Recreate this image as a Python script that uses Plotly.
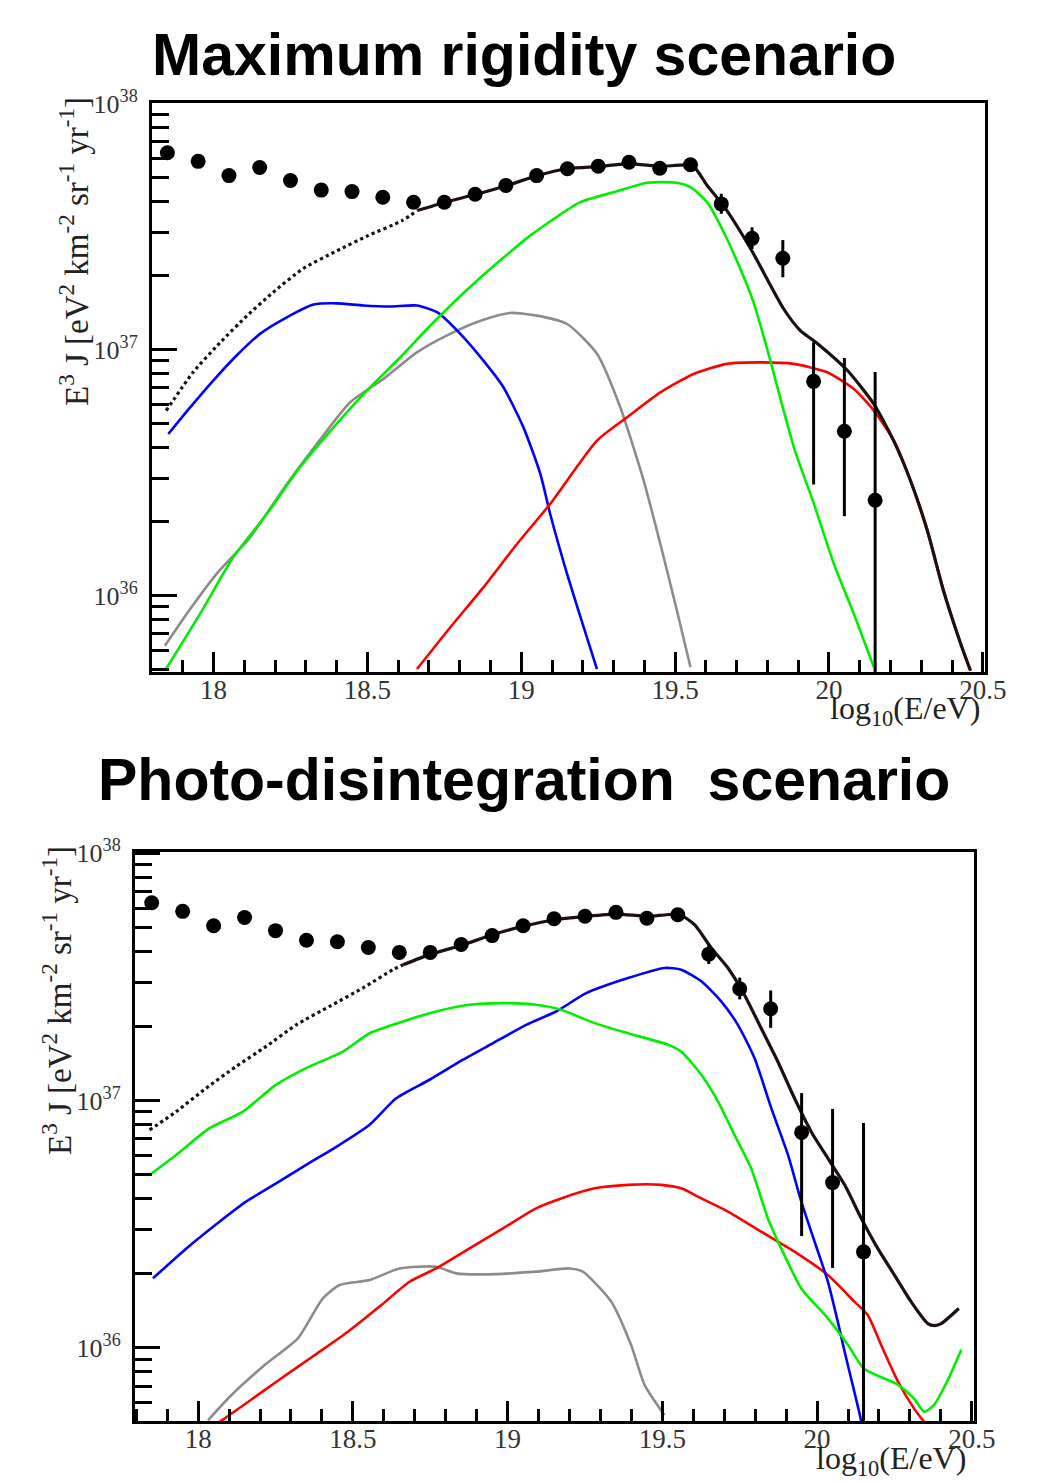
import plotly.graph_objects as go

# ---------------- data ----------------
# Measured spectrum (same data set in both panels), log10(E^3 J)
energy_bins = [17.85, 17.95, 18.05, 18.15, 18.25, 18.35, 18.45, 18.55, 18.65, 18.75,
               18.85, 18.95, 19.05, 19.15, 19.25, 19.35, 19.45, 19.55, 19.65, 19.75,
               19.85, 19.95, 20.05, 20.15]
flux_log10 = [37.800, 37.765, 37.707, 37.740, 37.687, 37.648, 37.642, 37.619, 37.599, 37.599,
              37.631, 37.667, 37.707, 37.735, 37.745, 37.761, 37.737, 37.751, 37.592, 37.452,
              37.371, 36.871, 36.668, 36.388]
flux_up_log10 = [37.810, 37.775, 37.717, 37.750, 37.697, 37.658, 37.652, 37.629, 37.609, 37.609,
                 37.641, 37.677, 37.717, 37.745, 37.757, 37.775, 37.753, 37.770, 37.633, 37.497,
                 37.445, 37.030, 36.966, 36.909]
flux_low_log10 = [37.790, 37.755, 37.697, 37.730, 37.677, 37.638, 37.632, 37.609, 37.589, 37.589,
                  37.621, 37.657, 37.697, 37.725, 37.733, 37.747, 37.721, 37.732, 37.552, 37.409,
                  37.294, 36.452, 36.323, 35.300]

# ---- Maximum rigidity scenario ----
mr_total_extrap_x = [17.846, 17.933, 18.021, 18.109, 18.193, 18.291, 18.402, 18.502, 18.613, 18.662]
mr_total_extrap_y = [36.752, 36.907, 37.028, 37.138, 37.232, 37.329, 37.402, 37.463, 37.524, 37.565]
mr_total_x = [18.662, 18.750, 18.850, 18.954, 19.052, 19.153, 19.254, 19.354, 19.452, 19.556,
              19.604, 19.657, 19.745, 19.852, 19.907, 19.963, 20.060, 20.145, 20.210, 20.265,
              20.320, 20.372, 20.428, 20.460]
mr_total_y = [37.565, 37.598, 37.630, 37.667, 37.707, 37.736, 37.744, 37.756, 37.744, 37.748,
              37.667, 37.585, 37.411, 37.167, 37.077, 37.024, 36.915, 36.780, 36.630, 36.467,
              36.264, 36.020, 35.805, 35.695]
mr_blue_x = [17.853, 17.924, 17.999, 18.075, 18.151, 18.238, 18.325, 18.401, 18.487, 18.574,
             18.661, 18.726, 18.802, 18.877, 18.942, 19.007, 19.062, 19.094, 19.149, 19.203, 19.246]
mr_blue_y = [36.657, 36.765, 36.874, 36.976, 37.064, 37.131, 37.183, 37.188, 37.179, 37.175,
             37.179, 37.152, 37.064, 36.955, 36.847, 36.684, 36.495, 36.332, 36.088, 35.871, 35.702]
mr_gray_x = [17.842, 17.924, 18.010, 18.119, 18.227, 18.336, 18.444, 18.552, 18.661, 18.769,
             18.877, 18.964, 19.051, 19.149, 19.246, 19.322, 19.398, 19.452, 19.506, 19.550]
mr_gray_y = [35.797, 35.946, 36.089, 36.237, 36.434, 36.617, 36.786, 36.881, 36.989, 37.064,
             37.121, 37.149, 37.138, 37.104, 36.983, 36.765, 36.467, 36.210, 35.939, 35.709]
mr_green_x = [17.842, 17.956, 18.064, 18.173, 18.281, 18.390, 18.498, 18.607, 18.715, 18.856,
              19.029, 19.192, 19.300, 19.409, 19.506, 19.550, 19.604, 19.658, 19.712, 19.755,
              19.799, 19.886, 19.951, 20.016, 20.081, 20.146]
mr_green_y = [35.695, 35.926, 36.156, 36.332, 36.522, 36.684, 36.833, 36.969, 37.111, 37.280,
              37.463, 37.599, 37.639, 37.678, 37.678, 37.660, 37.599, 37.477, 37.328, 37.192,
              37.003, 36.603, 36.373, 36.129, 35.926, 35.709]
mr_red_x = [18.661, 18.769, 18.877, 18.986, 19.094, 19.246, 19.344, 19.452, 19.560, 19.669,
            19.777, 19.885, 19.994, 20.081, 20.146, 20.211, 20.265, 20.319, 20.373, 20.428, 20.460]
mr_red_y = [35.702, 35.871, 36.034, 36.210, 36.373, 36.630, 36.725, 36.826, 36.901, 36.942,
            36.948, 36.942, 36.908, 36.840, 36.752, 36.630, 36.467, 36.264, 36.020, 35.804, 35.695]

# ---- Photo-disintegration scenario ----
pd_total_extrap_x = [17.843, 17.929, 18.026, 18.123, 18.220, 18.317, 18.425, 18.532, 18.629, 18.662]
pd_total_extrap_y = [36.881, 36.955, 37.050, 37.138, 37.219, 37.306, 37.381, 37.455, 37.529, 37.549]
pd_total_x = [18.662, 18.748, 18.856, 18.953, 19.049, 19.157, 19.254, 19.351, 19.453, 19.555,
              19.604, 19.658, 19.712, 19.765, 19.819, 19.873, 19.927, 19.981, 20.035, 20.089,
              20.143, 20.196, 20.250, 20.304, 20.358, 20.380, 20.401, 20.458]
pd_total_y = [37.549, 37.590, 37.630, 37.671, 37.704, 37.732, 37.745, 37.754, 37.745, 37.752,
              37.711, 37.617, 37.536, 37.428, 37.293, 37.158, 37.009, 36.874, 36.766, 36.659,
              36.523, 36.402, 36.294, 36.186, 36.098, 36.090, 36.098, 36.159]
pd_green_x = [17.843, 17.929, 18.037, 18.145, 18.252, 18.349, 18.468, 18.554, 18.662, 18.769,
              18.877, 18.985, 19.092, 19.173, 19.281, 19.389, 19.518, 19.561, 19.626, 19.680,
              19.733, 19.787, 19.841, 19.884, 19.949, 20.035, 20.100, 20.152, 20.262, 20.314,
              20.346, 20.378, 20.424, 20.466]
pd_green_y = [36.699, 36.780, 36.888, 36.955, 37.064, 37.131, 37.198, 37.272, 37.320, 37.360,
              37.387, 37.394, 37.387, 37.367, 37.313, 37.272, 37.226, 37.198, 37.104, 36.996,
              36.861, 36.726, 36.523, 36.402, 36.240, 36.119, 36.011, 35.915, 35.850, 35.794,
              35.741, 35.769, 35.874, 35.992]
pd_blue_x = [17.854, 17.962, 18.069, 18.155, 18.252, 18.349, 18.457, 18.554, 18.640, 18.748,
             18.856, 18.953, 19.060, 19.157, 19.254, 19.389, 19.507, 19.561, 19.626, 19.690,
             19.744, 19.798, 19.852, 19.906, 19.949, 19.992, 20.035, 20.067, 20.089, 20.136, 20.143]
pd_blue_y = [36.281, 36.402, 36.510, 36.591, 36.665, 36.740, 36.821, 36.902, 37.009, 37.084,
             37.165, 37.232, 37.306, 37.360, 37.434, 37.495, 37.536, 37.529, 37.482, 37.401,
             37.306, 37.171, 36.969, 36.780, 36.591, 36.429, 36.267, 36.105, 35.984, 35.741, 35.700]
pd_red_x = [18.069, 18.161, 18.268, 18.376, 18.484, 18.592, 18.683, 18.769, 18.877, 18.985,
            19.092, 19.173, 19.281, 19.389, 19.496, 19.561, 19.626, 19.712, 19.819, 19.927,
            20.035, 20.121, 20.164, 20.207, 20.262, 20.314, 20.346]
pd_red_y = [35.700, 35.781, 35.876, 35.970, 36.065, 36.173, 36.267, 36.321, 36.402, 36.483,
            36.564, 36.604, 36.645, 36.659, 36.659, 36.645, 36.604, 36.551, 36.470, 36.389,
            36.294, 36.186, 36.132, 36.011, 35.862, 35.753, 35.700]
pd_gray_x = [18.032, 18.107, 18.215, 18.322, 18.403, 18.457, 18.554, 18.651, 18.769, 18.834,
             18.931, 19.092, 19.200, 19.243, 19.335, 19.399, 19.443, 19.507]
pd_gray_y = [35.707, 35.808, 35.930, 36.038, 36.200, 36.254, 36.274, 36.321, 36.328, 36.301,
             36.297, 36.308, 36.321, 36.308, 36.186, 36.011, 35.849, 35.727]

x_tick_vals = [18, 18.5, 19, 19.5, 20, 20.5]
x_tick_text = ["18", "18.5", "19", "19.5", "20", "20.5"]
y_tick_vals = [1e36, 1e37, 1e38]
y_tick_text = ["10<sup>36</sup>", "10<sup>37</sup>", "10<sup>38</sup>"]
y_minor_vals = [float(m) * 10.0 ** e for e in (35, 36, 37) for m in range(2, 10)]

panel_titles = ["<b>Maximum rigidity scenario</b>", "<b>Photo-disintegration\u00a0 scenario</b>"]
y_title = "E<sup>3</sup> J [eV<sup>2</sup> km<sup>-2</sup> sr<sup>-1</sup> yr<sup>-1</sup>]"
x_title = "log<sub>10</sub>(E/eV)"

# ---------------- figure ----------------
W, H = 1040, 1483
OFF = 8  # page body margin compensation
def px(x):
    return (x - OFF) / W
def py(y):
    return 1 - (y - OFF) / H

def lin(v):
    return [10.0 ** a for a in v]

fig = go.Figure()

GREEN = "#00ee00"
BLUE = "#0000ff"
RED = "#ff0000"
GRAY = "#8c8c8c"
DARK = "#1e1010"
LW = 2.6
SMOOTH = 0.6

def add_panel(xa, ya, curves, tot_ex_x, tot_ex_y, tot_x, tot_y):
    for (cx, cy, col) in curves:
        fig.add_trace(go.Scatter(x=cx, y=lin(cy), mode="lines", xaxis=xa, yaxis=ya,
                                 line=dict(color=col, width=LW, shape="spline", smoothing=SMOOTH),
                                 showlegend=False))
    fig.add_trace(go.Scatter(x=tot_ex_x, y=lin(tot_ex_y), mode="lines", xaxis=xa, yaxis=ya,
                             line=dict(color=DARK, width=3.2, dash="dot", shape="spline",
                                       smoothing=SMOOTH), showlegend=False))
    fig.add_trace(go.Scatter(x=tot_x, y=lin(tot_y), mode="lines", xaxis=xa, yaxis=ya,
                             line=dict(color=DARK, width=3.2, shape="spline", smoothing=SMOOTH),
                             showlegend=False))
    yv = lin(flux_log10)
    up = [u - v for u, v in zip(lin(flux_up_log10), yv)]
    lo = [v - l for l, v in zip(lin(flux_low_log10), yv)]
    fig.add_trace(go.Scatter(x=energy_bins, y=yv, mode="markers", xaxis=xa, yaxis=ya,
                             marker=dict(color="black", size=15),
                             error_y=dict(type="data", symmetric=False, array=up, arrayminus=lo,
                                          thickness=3, width=0, color="black"),
                             showlegend=False))

add_panel("x", "y",
          [(mr_gray_x, mr_gray_y, GRAY), (mr_blue_x, mr_blue_y, BLUE),
           (mr_red_x, mr_red_y, RED), (mr_green_x, mr_green_y, GREEN)],
          mr_total_extrap_x, mr_total_extrap_y, mr_total_x, mr_total_y)
add_panel("x2", "y2",
          [(pd_gray_x, pd_gray_y, GRAY), (pd_red_x, pd_red_y, RED),
           (pd_blue_x, pd_blue_y, BLUE), (pd_green_x, pd_green_y, GREEN)],
          pd_total_extrap_x, pd_total_extrap_y, pd_total_x, pd_total_y)

tick_font = dict(family="Liberation Serif", size=27, color="#333333")

def xaxis_cfg(domain, rng, anchor):
    return dict(domain=domain, range=rng, anchor=anchor, showgrid=False, zeroline=False,
                automargin=False,
                showline=True, linecolor="black", linewidth=3, mirror=True,
                ticks="inside", ticklen=20, tickwidth=3, tickcolor="black",
                tickmode="array", tickvals=x_tick_vals, ticktext=x_tick_text,
                tickfont=tick_font, ticklabelstandoff=-8,
                minor=dict(ticks="inside", ticklen=12, tickwidth=3, tickcolor="black",
                           dtick=0.1, tick0=18, showgrid=False))

def yaxis_cfg(domain, rng, anchor):
    return dict(domain=domain, range=rng, type="log", anchor=anchor, showgrid=False,
                automargin=False,
                zeroline=False, showline=True, linecolor="black", linewidth=3, mirror=True,
                ticks="inside", ticklen=25, tickwidth=3, tickcolor="black",
                tickmode="array", tickvals=y_tick_vals, ticktext=y_tick_text,
                tickfont=dict(family="Liberation Serif", size=26, color="#333333"),
                ticklabelstandoff=6,
                minor=dict(ticks="inside", ticklen=17, tickwidth=3, tickcolor="black",
                           tickmode="array", tickvals=y_minor_vals, showgrid=False))

fig.update_layout(
    width=W, height=H, autosize=False,
    margin=dict(l=0, r=0, t=0, b=0),
    paper_bgcolor="white", plot_bgcolor="white",
    xaxis=xaxis_cfg([px(152), px(985)], [17.8, 20.507], "y"),
    yaxis=yaxis_cfg([py(672), py(103)], [35.69, 38.002], "x"),
    xaxis2=xaxis_cfg([px(135), px(974)], [17.796, 20.507], "y2"),
    yaxis2=yaxis_cfg([py(1421), py(852)], [35.704, 38.005], "x2"),
)

annotations = [
    dict(text=panel_titles[0], x=px(524), y=py(55), xref="paper", yref="paper",
         xanchor="center", yanchor="middle", showarrow=False,
         font=dict(family="Liberation Sans", size=59, color="black")),
    dict(text=panel_titles[1], x=px(524), y=py(780), xref="paper", yref="paper",
         xanchor="center", yanchor="middle", showarrow=False,
         font=dict(family="Liberation Sans", size=59, color="black")),
    dict(text=y_title, x=px(74), y=py(252), xref="paper", yref="paper", textangle=-90,
         xanchor="center", yanchor="middle", showarrow=False,
         font=dict(family="Liberation Serif", size=33, color="#222222")),
    dict(text=y_title, x=px(57), y=py(1001), xref="paper", yref="paper", textangle=-90,
         xanchor="center", yanchor="middle", showarrow=False,
         font=dict(family="Liberation Serif", size=33, color="#222222")),
    dict(text=x_title, x=px(982), y=py(710), xref="paper", yref="paper",
         xanchor="right", yanchor="middle", showarrow=False,
         font=dict(family="Liberation Serif", size=32, color="#222222")),
    dict(text=x_title, x=px(968), y=py(1460), xref="paper", yref="paper",
         xanchor="right", yanchor="middle", showarrow=False,
         font=dict(family="Liberation Serif", size=32, color="#222222")),
]
fig.update_layout(annotations=annotations)

fig.write_html("out.html")
